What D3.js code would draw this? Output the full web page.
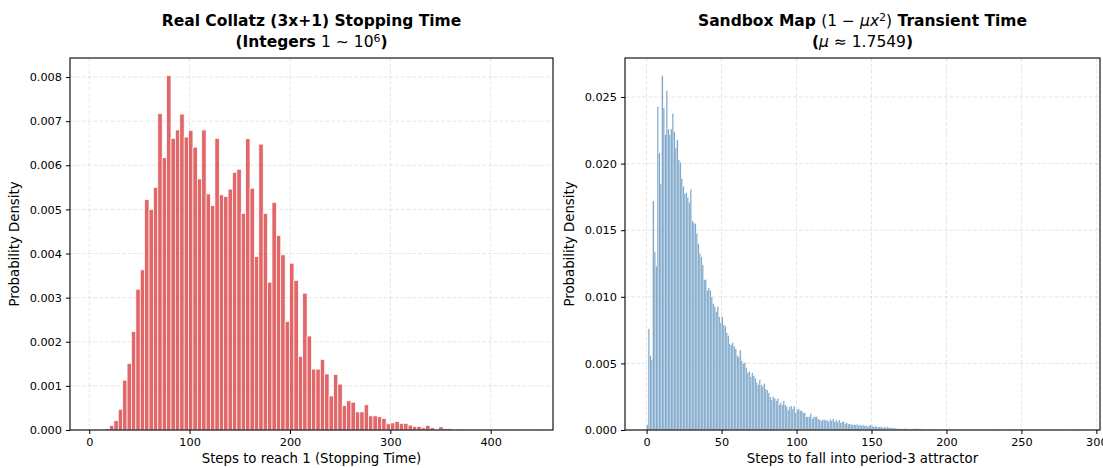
<!DOCTYPE html>
<html>
<head>
<meta charset="utf-8">
<script src="https://cdn.jsdelivr.net/npm/d3@7"></script>
<style>
  body { margin: 0; background: #fff; }
  svg { display: block; font-family: "DejaVu Sans", sans-serif; }
</style>
</head>
<body>
<svg id="chart" width="1103" height="468"></svg>
<script>
// left panel: 100 bins, first edge + width
var collatzStart = 2.7, collatzWidth = 4.375;
var collatzDensity = [
  0, 0, 0.00001, 0.00003, 0.0001, 0.00021, 0.00047, 0.00113, 0.00151, 0.00223, 0.00319, 0.00363,
  0.00522, 0.00500, 0.00550, 0.00717, 0.00617, 0.00803, 0.00661, 0.00680, 0.00716, 0.00664, 0.00679, 0.00641, 0.00569, 0.00680, 0.00535, 0.00509,
  0.00661, 0.00533, 0.00529, 0.00546, 0.00584, 0.00591, 0.00491, 0.00660, 0.00548, 0.00393, 0.00648, 0.00491, 0.00335, 0.00516, 0.00441, 0.00397, 0.00246, 0.00378, 0.00339, 0.00167, 0.00310, 0.00213, 0.00138, 0.00138, 0.00160,
  0.00127, 0.00077, 0.00126, 0.00104, 0.00055, 0.00066, 0.00063, 0.00041, 0.00041, 0.00057, 0.00032, 0.00032, 0.00030, 0.00026, 0.00014, 0.00016, 0.00019, 0.00015, 0.00015, 0.00011, 0.00008, 0.00008, 0.00005, 0.0001, 0.00005, 0.00001, 0.00007, 0.00003, 0.00003, 0.00001, 0.00002, 0.00002,
  0.00001, 0.00001, 0, 0.00001, 0, 0, 0, 0, 0, 0, 0, 0, 0, 0, 0.00001
];
var collatzXTicks = [0, 100, 200, 300, 400];
var collatzYTicks = [0, 0.001, 0.002, 0.003, 0.004, 0.005, 0.006, 0.007, 0.008];

// right panel: one bin per integer step, 0..200
var sandboxDensity = [
  0.0004, 0.0076, 0.0056, 0.0053, 0.0172, 0.0134, 0.0123, 0.0243, 0.0208, 0.0185,
  0.0266, 0.0242, 0.0222, 0.0255, 0.0226, 0.0222, 0.0226, 0.0238, 0.0224, 0.0212,
  0.0218, 0.0203, 0.0201, 0.0189, 0.0183, 0.0178, 0.0178, 0.0175, 0.0171, 0.0181,
  0.0157, 0.0156, 0.0155, 0.0148, 0.0140, 0.0133, 0.0130, 0.0124, 0.0113, 0.0113,
  0.0105, 0.0107, 0.0105, 0.0100, 0.0095, 0.0093, 0.0089, 0.0093, 0.0085, 0.0081,
  0.0085, 0.0079, 0.0078, 0.0073, 0.0071, 0.0065, 0.0064, 0.0066, 0.0063, 0.0061,
  0.0056, 0.0055, 0.0060, 0.0052, 0.0050, 0.0051, 0.0047, 0.0043, 0.0044, 0.0040,
  0.0043, 0.0041, 0.0039, 0.0036, 0.0034, 0.0038, 0.0034, 0.0033, 0.0035, 0.0031,
  0.0030, 0.0028, 0.0025, 0.0023, 0.0025, 0.0024, 0.0022, 0.0024, 0.0019, 0.0021,
  0.0019, 0.0022, 0.0019, 0.0018, 0.0015, 0.00175, 0.0018, 0.0016, 0.0018, 0.0013,
  0.00155, 0.0016, 0.00145, 0.00145, 0.0013, 0.0013, 0.0010, 0.0010, 0.0010, 0.00125,
  0.00085, 0.0010, 0.0010, 0.00105, 0.00083, 0.0008, 0.00068, 0.0008, 0.0008, 0.00075,
  0.00075, 0.00068, 0.0008, 0.0007, 0.00083, 0.00063, 0.00075, 0.00063, 0.00075, 0.00055,
  0.00063, 0.00063, 0.0005, 0.00055, 0.00045, 0.0005, 0.00043, 0.00045, 0.0004, 0.00043,
  0.00043, 0.00038, 0.0004, 0.00035, 0.00038, 0.00033, 0.00035, 0.0003, 0.00033, 0.0004,
  0.00033, 0.00025, 0.0003, 0.00028, 0.00022, 0.0003, 0.00025, 0.0002, 0.00025, 0.00018,
  0.00025, 0.0002, 0.00017, 0.0002, 0.00015, 0.00018, 0.00012, 0.00015, 0.0001, 0.00015,
  0.00008, 0.00012, 0.00012, 0.0001, 0.00008, 0.0001, 0.00006, 0.00008, 0.00012, 0.00008,
  0.00013, 0.0001, 0.00009, 0.00007, 0.00005, 0.00007, 0.00004, 0.00004, 0.00003, 0.00005,
  0.00003, 0.00002, 0.00003, 0.00002, 0.00004, 0.00002, 0.00002, 0.00003, 0.00001, 0.00002,
  0.00002
];
// sparse far tail [step, density]
var sandboxTail = [[203, 0.00001], [207, 0.00001], [212, 0.00001], [220, 0.00001], [231, 0.00001], [245, 0.00001], [262, 0.00001], [287, 0.00001]];
var sandboxXTicks = [0, 50, 100, 150, 200, 250, 300];
var sandboxYTicks = [0, 0.005, 0.010, 0.015, 0.020, 0.025];

var svg = d3.select("#chart");

var collatzBins = collatzDensity.map(function(d, i) {
    var x0 = collatzStart + i * collatzWidth;
    return { x0: x0, x1: x0 + collatzWidth, y: d };
});
var sandboxBins = sandboxDensity.map(function(d, i) {
    return { x0: i, x1: i + 1, y: d };
}).concat(sandboxTail.map(function(t) {
    return { x0: t[0], x1: t[0] + 1, y: t[1] };
}));

function drawPanel(opt) {
    var left = opt.left, right = opt.right, top = 58, bottom = 430;
    var bins = opt.bins;
    var xmin = d3.min(bins, function(d) { return d.x0; }),
        xmax = d3.max(bins, function(d) { return d.x1; }),
        ymax = d3.max(bins, function(d) { return d.y; });
    var pad = (xmax - xmin) * 0.05;
    var x = d3.scaleLinear().domain([xmin - pad, xmax + pad]).range([left, right]);
    var y = d3.scaleLinear().domain([0, ymax * 1.05]).range([bottom, top]);

    var g = svg.append("g");

    // grid
    g.append("g").selectAll("line").data(opt.xTicks).enter().append("line")
        .attr("x1", function(d) { return x(d); }).attr("x2", function(d) { return x(d); })
        .attr("y1", top).attr("y2", bottom)
        .attr("stroke", "#b0b0b0").attr("stroke-opacity", 0.3)
        .attr("stroke-width", 1).attr("stroke-dasharray", "4,1.8");
    g.append("g").selectAll("line").data(opt.yTicks).enter().append("line")
        .attr("x1", left).attr("x2", right)
        .attr("y1", function(d) { return y(d); }).attr("y2", function(d) { return y(d); })
        .attr("stroke", "#b0b0b0").attr("stroke-opacity", 0.3)
        .attr("stroke-width", 1).attr("stroke-dasharray", "4,1.8");

    // bars
    g.append("g").selectAll("rect").data(bins).enter().append("rect")
        .attr("x", function(d) { return x(d.x0); })
        .attr("width", function(d) { return x(d.x1) - x(d.x0); })
        .attr("y", function(d) { return y(d.y); })
        .attr("height", function(d) { return bottom - y(d.y); })
        .attr("fill", opt.color).attr("fill-opacity", opt.alpha)
        .attr("stroke", "#fff").attr("stroke-width", opt.edge);

    // axes
    var xAxis = d3.axisBottom(x).tickValues(opt.xTicks).tickFormat(d3.format("d")).tickSizeOuter(0).tickSize(4).tickPadding(4);
    var yAxis = d3.axisLeft(y).tickValues(opt.yTicks).tickFormat(d3.format(".3f")).tickSizeOuter(0).tickSize(4).tickPadding(4);
    var gx = g.append("g").attr("transform", "translate(0," + bottom + ")").call(xAxis);
    var gy = g.append("g").attr("transform", "translate(" + left + ",0)").call(yAxis);
    [gx, gy].forEach(function(a) {
        a.select(".domain").remove();
        a.selectAll("text").attr("font-size", 11.3).attr("fill", "#000").attr("font-family", "DejaVu Sans");
        a.selectAll("line").attr("stroke", "#000").attr("stroke-width", 1);
    });

    // spines
    g.append("rect").attr("x", left).attr("y", top).attr("width", right - left).attr("height", bottom - top)
        .attr("fill", "none").attr("stroke", "#000").attr("stroke-width", 1.1);

    var cx = (left + right) / 2;
    g.append("text").attr("x", cx).attr("y", 463).attr("text-anchor", "middle")
        .attr("font-size", 13.3).text(opt.xLabel);
    g.append("text").attr("transform", "translate(" + opt.yLabelX + "," + (top + bottom) / 2 + ") rotate(-90)")
        .attr("text-anchor", "middle").attr("font-size", 13.3).text("Probability Density");

    // title, two lines with math parts in regular weight
    opt.title.forEach(function(line, li) {
        var t = g.append("text").attr("x", cx).attr("y", 26 + li * 21).attr("text-anchor", "middle")
            .attr("font-size", 15.5);
        line.forEach(function(p) {
            var s = t.append("tspan").text(p.t)
                .attr("font-weight", p.math ? "normal" : "bold")
                .attr("font-style", p.it ? "italic" : "normal");
            if (p.sup) s.attr("baseline-shift", "45%").attr("font-size", 11);
        });
    });
}

drawPanel({
    left: 70, right: 553, bins: collatzBins,
    xTicks: collatzXTicks, yTicks: collatzYTicks,
    color: "#d62728", alpha: 0.7, edge: 0.7,
    xLabel: "Steps to reach 1 (Stopping Time)", yLabelX: 19,
    title: [
        [{ t: "Real Collatz (3x+1) Stopping Time" }],
        [{ t: "(Integers " }, { t: "1 ∼ 10", math: true }, { t: "6", math: true, sup: true }, { t: ")" }]
    ]
});

drawPanel({
    left: 625, right: 1100, bins: sandboxBins,
    xTicks: sandboxXTicks, yTicks: sandboxYTicks,
    color: "steelblue", alpha: 0.75, edge: 0.3,
    xLabel: "Steps to fall into period-3 attractor", yLabelX: 574,
    title: [
        [{ t: "Sandbox Map " }, { t: "(1 − ", math: true }, { t: "μx", math: true, it: true }, { t: "2", math: true, sup: true }, { t: ")", math: true }, { t: " Transient Time" }],
        [{ t: "(" }, { t: "μ", math: true, it: true }, { t: " ≈ 1.7549", math: true }, { t: ")" }]
    ]
});
</script>
</body>
</html>
